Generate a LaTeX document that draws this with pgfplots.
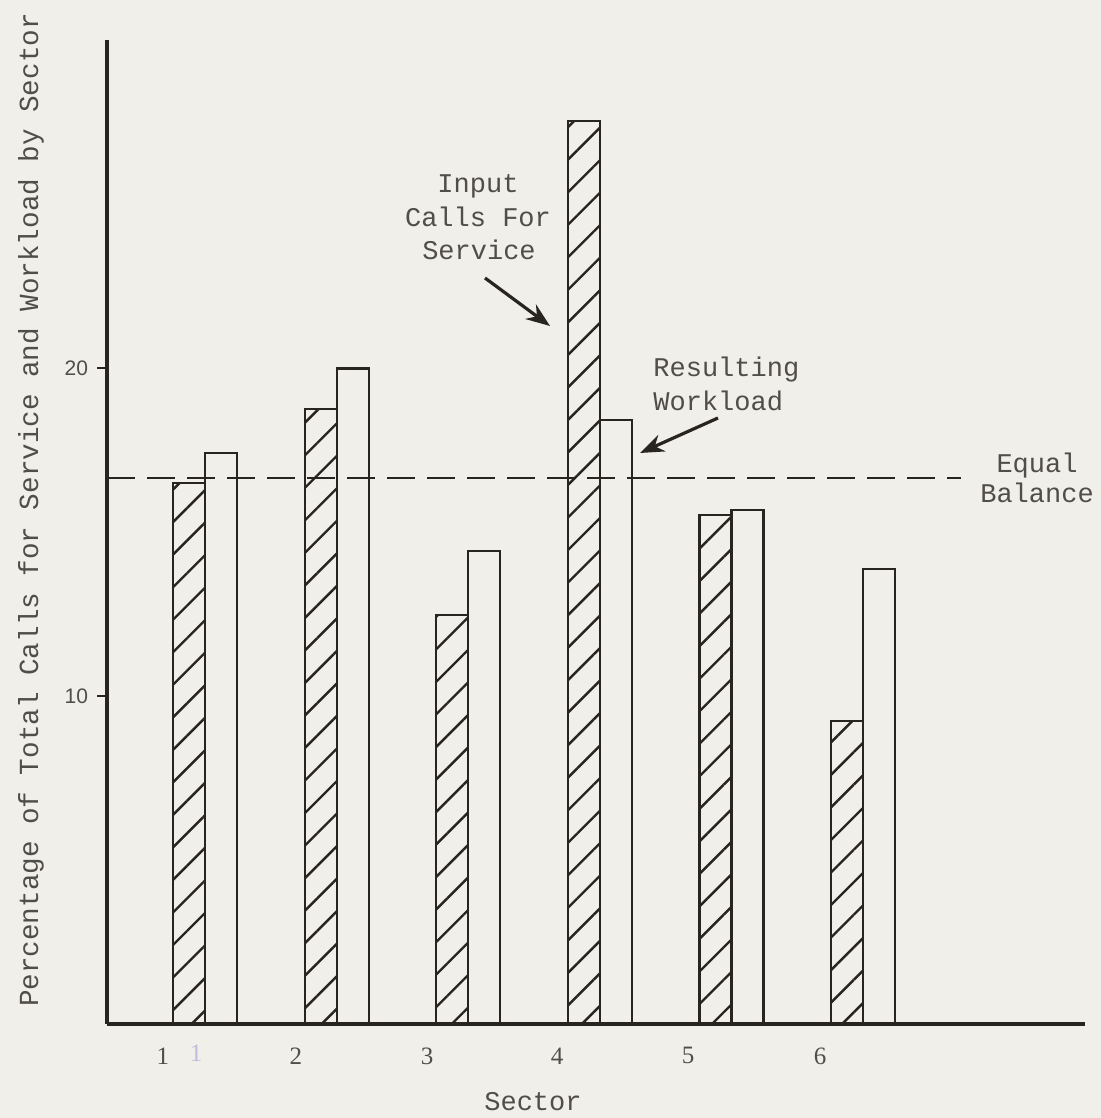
\documentclass[border=0pt]{standalone}
\usepackage{fontspec}
\usepackage{pgfplots}
\pgfplotsset{compat=1.18}
\usetikzlibrary{patterns.meta,arrows.meta}
\newfontfamily\tw{Liberation Mono}
\newfontfamily\sansf{Liberation Sans}
\newfontfamily\seriff{Liberation Serif}
\definecolor{bg}{RGB}{240,239,234}
\definecolor{ink}{RGB}{40,36,33}
\definecolor{txt}{RGB}{80,77,74}
\definecolor{ghost}{RGB}{190,190,222}
\begin{document}
\begin{tikzpicture}
\fill[bg] (0,0) rectangle (550.5pt,559pt);
\path[use as bounding box] (0,0) rectangle (550.5pt,559pt);
\begin{axis}[
  at={(53.5pt,46.75pt)}, anchor=south west,
  scale only axis, width=489pt, height=492pt,
  xmin=0.2536, xmax=7.687, ymin=0, ymax=30,
  axis x line=bottom, axis y line=left,
  axis line style={-, line width=2pt, draw=ink},
  xtick={0.679,1.690,2.686,3.674,4.670,5.674},
  xticklabels={1,2,3,4,5,6},
  ytick={10,20},
  yticklabels={10,20},
  tick align=outside,
  major tick length=5pt,
  xtick style={draw=none},
  ytick style={line width=1pt, draw=ink},
  xticklabel style={font=\seriff\fontsize{12.5}{14}\selectfont, text=txt, yshift=-3pt},
  yticklabel style={font=\sansf\fontsize{10.5}{12}\selectfont, text=txt, xshift=-1pt},
  /pgf/number format/assume math mode=true,
  clip=false,
]
\addplot[ybar, bar width=0.2432, bar shift=-0.1216, draw=ink, line width=1.1pt,
  pattern={Lines[angle=45,distance=11.5pt,line width=1.2pt]}, pattern color=ink]
  coordinates {(1,16.51)(2,18.76)(3,12.48)(4,27.55)(5,15.53)(6,9.25)};
\addplot[ybar, bar width=0.2432, bar shift=0.1216, draw=ink, line width=1.1pt, fill=none]
  coordinates {(1,17.42)(2,20.0)(3,14.44)(4,18.43)(5,15.69)(6,13.89)};
\addplot[draw=ink, line width=1pt, dash pattern=on 14pt off 6pt]
  coordinates {(0.2536,16.67)(6.746,16.67)};
\end{axis}
\begin{scope}[x=0.5pt,y=-0.5pt,shift={(0pt,559pt)}]
  \tikzset{tw/.style={font=\tw\fontsize{13.5}{16.5}\selectfont, text=txt, inner sep=0pt, anchor=base}}
  \node[tw] at (478,193) {Input};
  \node[tw] at (478,227) {Calls For};
  \node[tw] at (479,260) {Service};
  \node[tw, anchor=base west] at (653,377) {Resulting};
  \node[tw, anchor=base west] at (653,411) {Workload};
  \node[tw] at (1037,473) {Equal};
  \node[tw] at (1037,503) {Balance};
  \node[tw, font=\tw\fontsize{13.8}{16}\selectfont, rotate=90] at (38,510) {Percentage of Total Calls for Service and Workload by Sector};
  \node[tw] at (533,1111) {Sector};
  \node[font=\seriff\fontsize{12.5}{14}\selectfont, text=ghost, inner sep=0pt, anchor=base] at (196,1062) {1};
  \draw[ink, line width=1.6pt, -{Stealth[length=12pt,width=9pt]}] (485,278) -- (550,326);
  \draw[ink, line width=1.6pt, -{Stealth[length=12pt,width=9pt]}] (718,418) -- (640,453);
\end{scope}
\end{tikzpicture}
\end{document}
